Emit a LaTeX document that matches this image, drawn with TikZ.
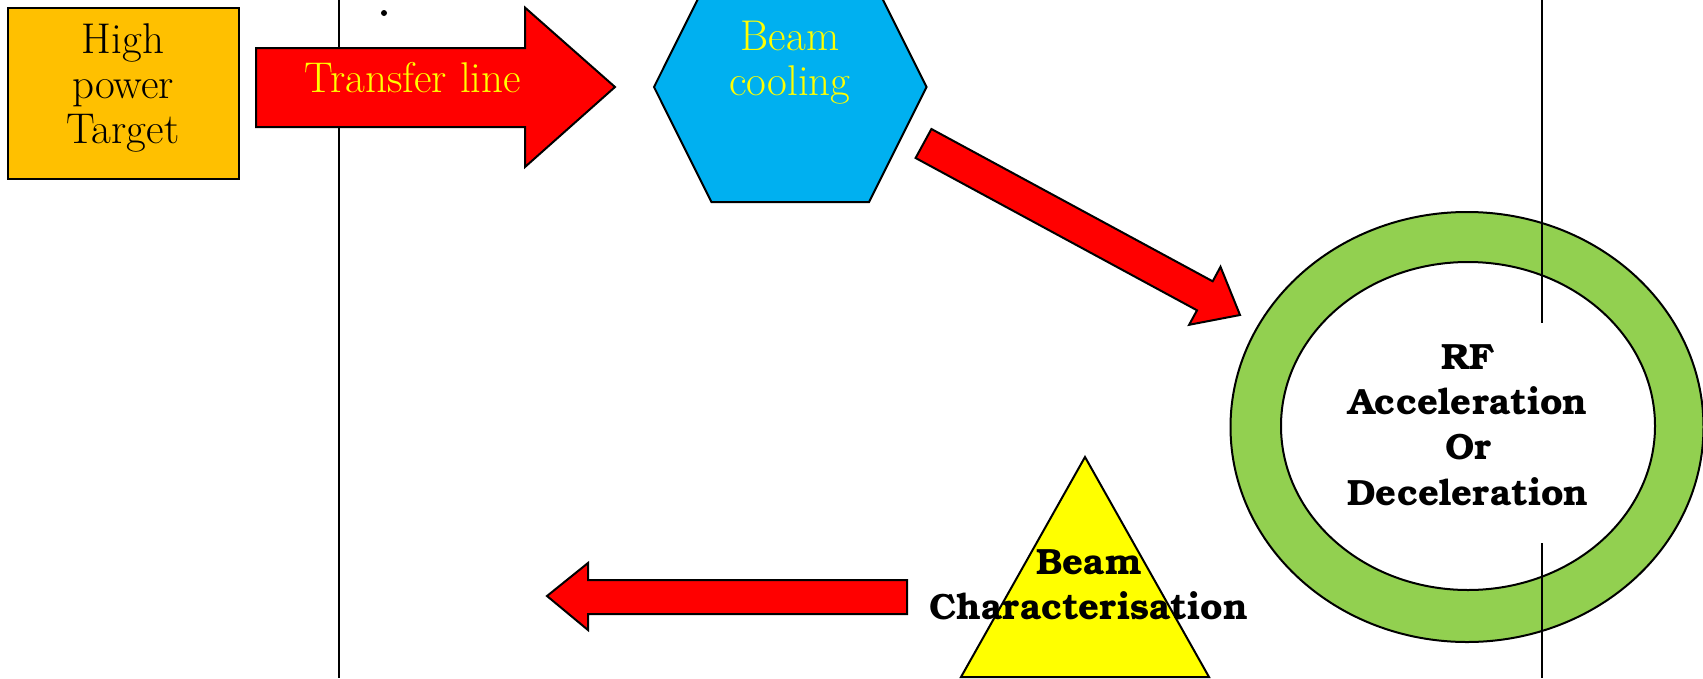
\documentclass[tikz,border=0pt]{standalone}
\usepackage{fontspec}
\newfontfamily\bonum{TeX Gyre Bonum}
\definecolor{tgtorange}{HTML}{FFC000}
\definecolor{hexblue}{HTML}{00B0F0}
\definecolor{ringgreen}{HTML}{92D050}
\definecolor{arrred}{HTML}{FF0000}
\definecolor{txtyellow}{HTML}{FFFF00}
\tikzset{
  outline/.style={draw=black, line width=2pt, line join=miter},
  blockarrow/.style={outline, fill=arrred},
  plaintext/.style={align=center, inner sep=0pt, font=\fontsize{43}{45}\selectfont},
  boldtext/.style={align=center, inner sep=0pt, font=\bonum\bfseries\fontsize{36.5}{45.3}\selectfont},
  rule/.style={draw=black, line width=2pt}
}
\begin{document}
\begin{tikzpicture}[x=1pt,y=-1pt]
\clip (0,0) rectangle (1703,678);
\fill[white] (0,0) rectangle (1703,678);

% vertical rules
\coordinate (l1) at (339,0);
\coordinate (l2) at (339,678);
\draw[rule] (l1) -- (l2);
\fill (384,13) circle (3);

% target box
\node[outline, fill=tgtorange, minimum width=231.4pt, minimum height=171.4pt, inner sep=0pt] (target) at (123.3,93.3) {};
\node[plaintext] (targettext) at (123,88) {High\\power\\Target};

% transfer line arrow
\draw[blockarrow] (256,48) -- (525,48) -- (525,7.6) -- (615,87) -- (525,167) -- (525,127) -- (256,127) -- cycle;
\node[plaintext, text=txtyellow] (transfer) at (413,78) {Transfer line};

% hexagon
\draw[outline, fill=hexblue] (654,87) -- (711.4,-28) -- (869,-28) -- (926.5,87) -- (869,202) -- (711.4,202) -- cycle;
\node[plaintext, text=txtyellow] (cooling) at (790,63) {Beam\\cooling};

% diagonal arrow
\draw[blockarrow] (931.4,129) -- (1212.7,281.3) -- (1220.5,266.8) -- (1240,315) -- (1189.1,324.8) -- (1197,310.3) -- (915.6,158) -- cycle;

% ring
\fill[ringgreen, even odd rule] (1467,427) ellipse [x radius=236.5, y radius=215] (1468,426) ellipse [x radius=187, y radius=164];
\draw[outline] (1467,427) ellipse [x radius=236.5, y radius=215];
\draw[outline] (1468,426) ellipse [x radius=187, y radius=164];
\coordinate (r1) at (1542,0);
\coordinate (r2) at (1542,323);
\coordinate (r3) at (1542,543);
\coordinate (r4) at (1542,678);
\draw[rule] (r1) -- (r2);
\draw[rule] (r3) -- (r4);
\node[boldtext] (rf) at (1468,425) {RF\\Acceleration\\Or\\Deceleration};

% bottom arrow
\draw[blockarrow] (907,580) -- (588,580) -- (588,563) -- (547,596) -- (588,630) -- (588,614) -- (907,614) -- cycle;

% triangle
\draw[outline, fill=txtyellow] (1085,457) -- (1209,677) -- (961,677) -- cycle;
\node[boldtext] (charac) at (1089,585) {Beam\\Characterisation};
\end{tikzpicture}
\end{document}
